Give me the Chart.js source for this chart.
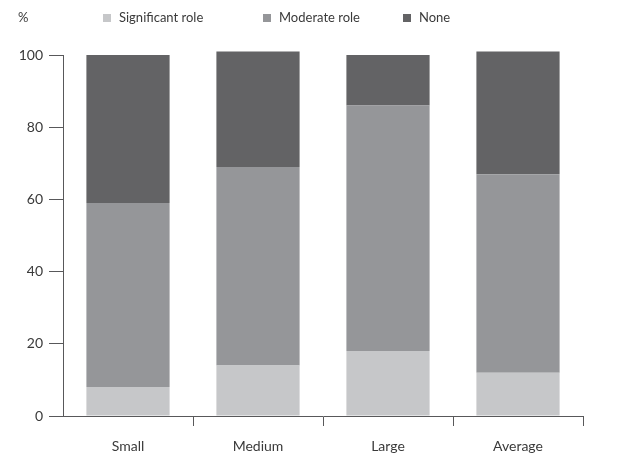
<!DOCTYPE html>
<html>
<head>
<meta charset="utf-8">
<script src="https://cdn.jsdelivr.net/npm/chart.js@4/dist/chart.umd.min.js"></script>
<style>
  html, body { margin: 0; padding: 0; background: #ffffff; }
  #wrap { width: 632px; height: 455px; }
</style>
</head>
<body>
<div id="wrap"><canvas id="c" width="632" height="455"></canvas></div>
<script>
// Firm size categories and share (%) of firms per role level
const categories = ['Small', 'Medium', 'Large', 'Average'];
const significantRole = [8, 14, 18, 12];
const moderateRole = [51, 55, 68, 55];
const noneRole = [41, 32, 14, 34];
const seriesLabels = ['Significant role', 'Moderate role', 'None'];
const seriesColors = ['#c6c7c9', '#959699', '#636365'];
const yTicks = [0, 20, 40, 60, 80, 100];

const FONT = 'Lato, "Open Sans", sans-serif';
const TEXT = '#3a3a3a';
const AXIS = '#58585a';

// Legend row and unit label drawn across the top of the canvas
const topLegend = {
  id: 'topLegend',
  afterDraw(chart) {
    const ctx = chart.ctx;
    ctx.save();
    ctx.fillStyle = TEXT;
    ctx.font = '13px ' + FONT;
    ctx.textBaseline = 'middle';
    ctx.textAlign = 'left';
    ctx.fillText('%', 18, 18);
    const starts = [103, 263, 403];
    chart.data.datasets.forEach((ds, i) => {
      const x = starts[i];
      ctx.fillStyle = ds.backgroundColor;
      ctx.fillRect(x, 14, 8, 8);
      ctx.fillStyle = TEXT;
      ctx.font = '13px ' + FONT;
      ctx.fillText(ds.label, x + 16, 18);
    });
    ctx.restore();
  }
};

const seriesData = [significantRole, moderateRole, noneRole];

new Chart(document.getElementById('c'), {
  type: 'bar',
  data: {
    labels: categories,
    datasets: seriesData.map((d, i) => ({
      label: seriesLabels[i],
      data: d,
      backgroundColor: seriesColors[i],
      borderWidth: 0,
      categoryPercentage: 1,
      barPercentage: 0.64,
      clip: false
    }))
  },
  options: {
    responsive: false,
    animation: false,
    layout: { padding: { left: 0, right: 49, top: 55, bottom: 0 } },
    plugins: {
      legend: { display: false },
      tooltip: { enabled: false }
    },
    scales: {
      x: {
        stacked: true,
        offset: true,
        grid: {
          offset: true,
          drawOnChartArea: false,
          drawTicks: true,
          tickLength: 10,
          lineWidth: 1,
          color: (c) => (c.index === 0 ? 'rgba(0,0,0,0)' : AXIS)
        },
        border: { display: true, color: AXIS, width: 1 },
        ticks: {
          color: TEXT,
          font: { family: FONT, size: 14 },
          padding: 12,
          maxRotation: 0
        },
        afterFit(scale) { scale.height = 39; }
      },
      y: {
        stacked: true,
        min: 0,
        max: 100,
        afterBuildTicks(scale) { scale.ticks = yTicks.map(v => ({ value: v })); },
        grid: {
          drawOnChartArea: false,
          drawTicks: true,
          tickLength: 14,
          lineWidth: 1,
          color: AXIS
        },
        border: { display: true, color: AXIS, width: 1 },
        ticks: {
          color: TEXT,
          font: { family: FONT, size: 14 },
          padding: 6
        },
        afterFit(scale) { scale.width = 63; }
      }
    }
  },
  plugins: [topLegend]
});
</script>
</body>
</html>
